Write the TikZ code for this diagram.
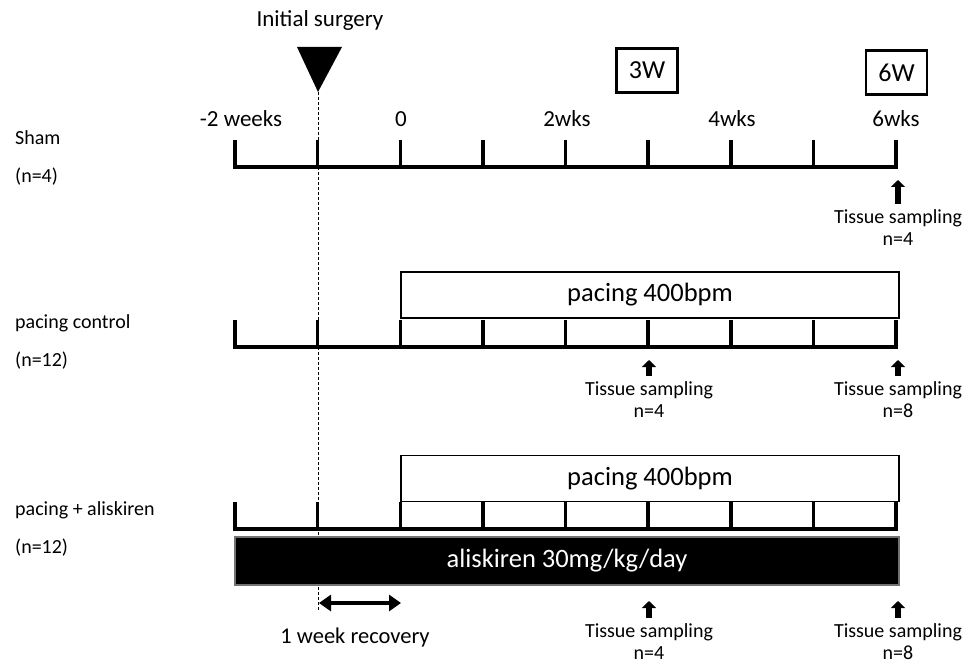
\documentclass[tikz,border=0pt]{standalone}
\usepackage{fontspec}
\setmainfont{Carlito}
\usetikzlibrary{arrows.meta}

\begin{document}
\begin{tikzpicture}[x=1pt,y=-1pt]
\tikzstyle{group}=[anchor=west, inner sep=0pt, font=\fontsize{20}{24}\selectfont]
\tikzstyle{weeklabel}=[font=\fontsize{23}{27}\selectfont]
\tikzstyle{sampling}=[align=center, inner sep=1pt, font=\fontsize{20}{22}\selectfont]
\tikzstyle{axis}=[line width=4pt]
\tikzstyle{tick}=[line width=3.5pt]
\tikzstyle{phase}=[draw, line width=1.8pt, fill=white, minimum width=498pt, minimum height=46pt, inner sep=0pt, font=\fontsize{26.5}{30}\selectfont]
\tikzstyle{wkbox}=[draw, line width=2.5pt, minimum width=61pt, minimum height=44pt, inner sep=0pt, font=\fontsize{26}{30}\selectfont]
\tikzstyle{upmark}=[-{Triangle[width=14pt,length=7pt]}, line width=6pt, shorten <=5pt]
\useasboundingbox (0,0) rectangle (975,666);

% surgery marker
\node[weeklabel] (surgery) at (320,20) {Initial surgery};
\fill (297,47) -- (342,47) -- (318,92) -- cycle;
\coordinate (apex) at (318,92);
\coordinate (dashend) at (318,610);
\draw[dash pattern=on 3pt off 2pt, line width=0.9pt] (apex) -- (dashend);

% week labels
\node[weeklabel] (wm2) at (241,119) {-2 weeks};
\node[weeklabel] (w0) at (401,119) {0};
\node[weeklabel] (w2) at (567,119) {2wks};
\node[weeklabel] (w4) at (732,119) {4wks};
\node[weeklabel] (w6) at (896,119) {6wks};
\node[wkbox] (box3) at (647,70.5) {3W};
\node[wkbox] (box6) at (896.5,72.5) {6W};

% groups
\node[group] (sham) at (15,138) {Sham};
\node[group] (shamn) at (15,177) {(n=4)};
\node[group] (ctrl) at (15,323) {pacing control};
\node[group] (ctrln) at (15,361) {(n=12)};
\node[group] (alis) at (15,510) {pacing + aliskiren};
\node[group] (alisn) at (15,548) {(n=12)};

% treatment bars
\node[phase] (pace2) at (650,295) {pacing 400bpm};
\node[phase] (pace3) at (650,478.5) {pacing 400bpm};
\node[draw=black!55, line width=1.5pt, fill=black, text=white, minimum width=664pt,
  minimum height=48pt, inner sep=0pt, font=\fontsize{26.5}{30}\selectfont]
  (drug) at (567,561) {aliskiren 30mg/kg/day};

% time axes
\foreach \row/\yy in {1/167, 2/347, 3/529} {
  \coordinate (a\row) at (233,\yy);
  \coordinate (b\row) at (898,\yy);
  \draw[axis] (a\row) -- (b\row);
  \foreach \i in {0,...,8}
    \draw[tick] (235+82.625*\i,\yy) -- (235+82.625*\i,\yy-27);
}

% sampling points
\node[sampling] (ts1) at (898,228) {Tissue sampling\\n=4};
\node[sampling] (ts2) at (649,400) {Tissue sampling\\n=4};
\node[sampling] (ts3) at (898,400) {Tissue sampling\\n=8};
\node[sampling] (ts4) at (649,642) {Tissue sampling\\n=4};
\node[sampling] (ts5) at (898,642) {Tissue sampling\\n=8};
\coordinate (s1) at (898,180);
\coordinate (s2) at (649,360);
\coordinate (s3) at (898,360);
\coordinate (s4) at (649,601);
\coordinate (s5) at (898,601);
\foreach \n in {1,...,5}
  \draw[upmark] (ts\n.north) -- (s\n);

% recovery
\coordinate (reca) at (319,603);
\coordinate (recb) at (401,603);
\draw[{Triangle[width=16pt,length=12pt]}-{Triangle[width=16pt,length=12pt]}, line width=3.5pt] (reca) -- (recb);
\node[weeklabel, font=\fontsize{22.5}{27}\selectfont] (recovery) at (355,637) {1 week recovery};
\end{tikzpicture}
\end{document}
